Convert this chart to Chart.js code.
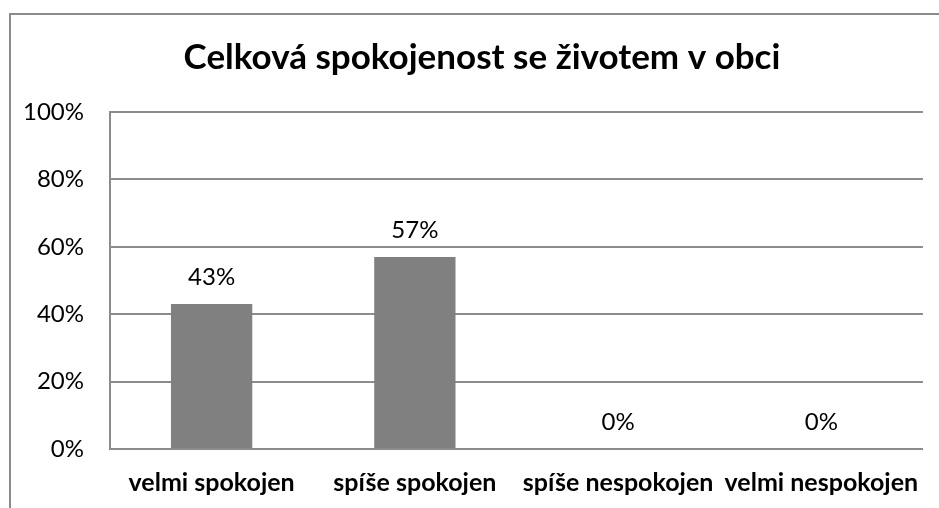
<!DOCTYPE html>
<html>
<head>
<meta charset="utf-8">
<script src="https://cdn.jsdelivr.net/npm/chart.js@4"></script>
<style>
  html, body { margin: 0; padding: 0; background: #fff; overflow: hidden; }
  #wrap { width: 939px; height: 508px; }
</style>
</head>
<body>
<div id="wrap"><canvas id="chartSpokojenost"></canvas></div>
<script>
// data
const categories = ['velmi spokojen', 'spíše spokojen', 'spíše nespokojen', 'velmi nespokojen'];
const values = [43, 57, 0, 0];
const yTicks = [0, 20, 40, 60, 80, 100];
const chartTitle = 'Celková spokojenost se životem v obci';

const fontFam = 'Lato, "Open Sans", sans-serif';
const gray = '#8c8c8c';

// outer frame + title (frame is wider than the window, so only left/top show)
const framePlugin = {
    id: 'frame',
    beforeDraw(chart) {
        const c = chart.ctx;
        c.save();
        c.fillStyle = '#fff';
        c.fillRect(0, 0, chart.width, chart.height);
        c.strokeStyle = gray;
        c.lineWidth = 2;
        c.beginPath();
        c.moveTo(10, chart.height);
        c.lineTo(10, 14);
        c.lineTo(chart.width, 14);
        c.stroke();
        c.font = 'bold 35px ' + fontFam;
        c.fillStyle = '#000';
        c.textAlign = 'center';
        c.textBaseline = 'middle';
        c.fillText(chartTitle, 482, 58);
        c.restore();
    }
};

// percent labels above the bars
const valueLabels = {
    id: 'valueLabels',
    afterDatasetsDraw(chart) {
        const c = chart.ctx;
        const meta = chart.getDatasetMeta(0);
        c.save();
        c.font = '24px ' + fontFam;
        c.fillStyle = '#000';
        c.textAlign = 'center';
        c.textBaseline = 'alphabetic';
        meta.data.forEach((bar, i) => {
            c.fillText(values[i] + '%', bar.x, bar.y - 19);
        });
        c.restore();
    }
};

new Chart(document.getElementById('chartSpokojenost').getContext('2d'), {
    type: 'bar',
    data: {
        labels: categories,
        datasets: [{
            data: values,
            backgroundColor: '#808080',
            categoryPercentage: 1,
            barPercentage: 0.4
        }]
    },
    options: {
        responsive: true,
        maintainAspectRatio: false,
        animation: false,
        layout: { padding: { left: 0, right: 15, top: 112, bottom: 0 } },
        plugins: {
            legend: { display: false },
            tooltip: { enabled: false },
            title: { display: false }
        },
        scales: {
            y: {
                min: 0,
                max: 100,
                afterFit: s => { s.width = 110; },
                afterBuildTicks: s => { s.ticks = yTicks.map(v => ({ value: v })); },
                ticks: {
                    color: '#000',
                    padding: 26,
                    font: { size: 24, family: fontFam },
                    callback: v => v + '%'
                },
                grid: { color: gray, lineWidth: 2, drawTicks: false },
                border: { color: gray, width: 2 }
            },
            x: {
                afterFit: s => { s.height = 59; },
                ticks: {
                    color: '#000',
                    padding: 19,
                    maxRotation: 0,
                    autoSkip: false,
                    font: { size: 25, weight: 'bold', family: fontFam }
                },
                grid: { display: false, drawTicks: false },
                border: { color: gray, width: 2 }
            }
        }
    },
    plugins: [framePlugin, valueLabels]
});
</script>
</body>
</html>
